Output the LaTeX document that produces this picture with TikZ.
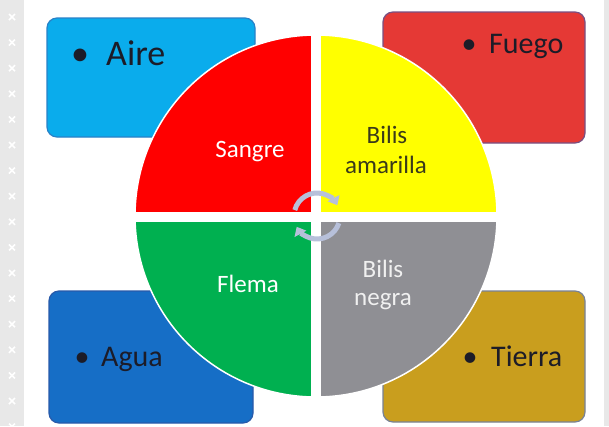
\documentclass[tikz,border=0pt]{standalone}
\usepackage{fontspec}
\setmainfont{Carlito}
\usetikzlibrary{arrows.meta}
\definecolor{stripc}{RGB}{232,232,232}
\definecolor{airec}{RGB}{10,172,236}
\definecolor{airebd}{RGB}{40,130,200}
\definecolor{fuegoc}{RGB}{229,57,53}
\definecolor{fuegobd}{RGB}{120,80,130}
\definecolor{aguac}{RGB}{22,110,198}
\definecolor{aguabd}{RGB}{40,90,170}
\definecolor{tierrac}{RGB}{201,158,30}
\definecolor{tierrabd}{RGB}{120,130,150}
\definecolor{qred}{RGB}{255,0,0}
\definecolor{qyellow}{RGB}{255,255,0}
\definecolor{qgreen}{RGB}{0,176,80}
\definecolor{qgray}{RGB}{143,143,148}
\definecolor{boxtext}{RGB}{28,28,40}
\definecolor{olivetext}{RGB}{58,58,26}
\definecolor{arrowc}{RGB}{183,192,218}
\tikzset{
  elembox/.style={rounded corners=10pt, line width=1.2pt},
  boxword/.style={anchor=base west, inner sep=0pt, text=boxtext},
  boxbullet/.style={anchor=base, inner sep=0pt, text=boxtext},
  quadtext/.style={anchor=base, inner sep=0pt},
  cyclearrow/.style={draw=arrowc, line width=5pt, -{Triangle[length=8pt,width=13pt]}}
}
\begin{document}
\begin{tikzpicture}[x=1pt,y=-1pt]
\useasboundingbox (0,0) rectangle (609,426);
\fill[white] (0,0) rectangle (609,426);
% side strips
\fill[stripc] (0,0) rectangle (24,426);
\fill[stripc] (604,0) rectangle (609,426);
\foreach \k in {0,...,16} {
  \draw[white, line width=1.6pt] (9,{14+25.6*\k}) -- ++(6,6) (9,{20+25.6*\k}) -- ++(6,-6);
}
% element boxes
\draw[elembox, fill=airec, draw=airebd] (47,18) rectangle (255,137);
\draw[elembox, fill=fuegoc, draw=fuegobd] (383,12) rectangle (585,143);
\draw[elembox, fill=aguac, draw=aguabd] (49,291) rectangle (253,423);
\draw[elembox, fill=tierrac, draw=tierrabd] (383,291) rectangle (585,422);
% box texts
\node[boxbullet, font=\fontsize{36}{40}\selectfont] (b1) at (80,65) {•};
\node[boxword, font=\fontsize{36}{40}\selectfont] (aire) at (106,65) {Aire};
\node[boxbullet, font=\fontsize{30}{36}\selectfont] (b2) at (469,53) {•};
\node[boxword, font=\fontsize{30}{36}\selectfont] (fuego) at (489,53) {Fuego};
\node[boxbullet, font=\fontsize{30}{36}\selectfont] (b3) at (82,366) {•};
\node[boxword, font=\fontsize{30}{36}\selectfont] (agua) at (101,366) {Agua};
\node[boxbullet, font=\fontsize{30}{36}\selectfont] (b4) at (470,366) {•};
\node[boxword, font=\fontsize{30}{36}\selectfont] (tierra) at (491,366) {Tierra};
% circle quadrants
\begin{scope}
  \clip (316,216) circle (181);
  \fill[qred] (130,30) rectangle (316,217);
  \fill[qyellow] (316,30) rectangle (502,217);
  \fill[qgreen] (130,217) rectangle (316,402);
  \fill[qgray] (316,217) rectangle (502,402);
  \fill[white] (311,30) rectangle (321,402);
  \fill[white] (130,212) rectangle (502,222);
\end{scope}
\draw[white, line width=1.5pt] (316,216) circle (181);
% quadrant texts
\node[quadtext, text=white, font=\fontsize{25}{30}\selectfont] (sangre) at (250,157) {Sangre};
\node[quadtext, text=olivetext, font=\fontsize{25}{30}\selectfont] (bam1) at (387,143) {Bilis};
\node[quadtext, text=olivetext, font=\fontsize{25}{30}\selectfont] (bam2) at (386,173) {amarilla};
\node[quadtext, text=white, font=\fontsize{25}{30}\selectfont] (flema) at (248,292) {Flema};
\node[quadtext, text=white!94!black, font=\fontsize{25}{30}\selectfont] (bne1) at (383,277) {Bilis};
\node[quadtext, text=white!94!black, font=\fontsize{25}{30}\selectfont] (bne2) at (383,305) {negra};
% cycle arrows
\coordinate (cc) at (317,216);
\draw[cyclearrow] ([shift={(cc)}]-165:23) arc[start angle=-165, end angle=-28, radius=23];
\draw[cyclearrow] ([shift={(cc)}]18:23) arc[start angle=18, end angle=152, radius=23];
\end{tikzpicture}
\end{document}
